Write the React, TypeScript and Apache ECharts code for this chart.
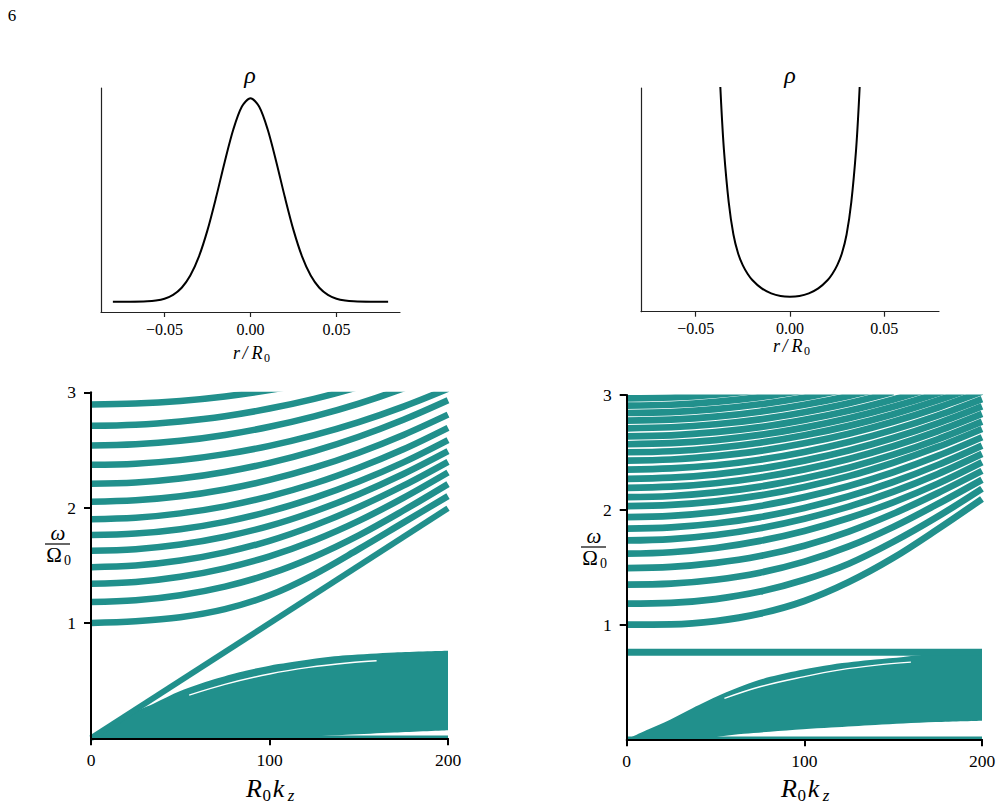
import React, { useEffect, useRef } from 'react';
import * as echarts from 'echarts';

const TEAL = '#21908c';
const SERIF = "'Liberation Serif', 'DejaVu Serif', serif";

// ---- density profiles (top row) ----
const R_GAUSS = [-0.08, -0.07, -0.06, -0.055, -0.05, -0.045, -0.04, -0.035, -0.03, -0.025, -0.02, -0.015, -0.01, -0.005, 0, 0.005, 0.01, 0.015, 0.02, 0.025, 0.03, 0.035, 0.04, 0.045, 0.05, 0.055, 0.06, 0.07, 0.08];
const RHO_GAUSS = [0, 0.0003, 0.0025, 0.0064, 0.0154, 0.034, 0.069, 0.129, 0.222, 0.352, 0.513, 0.687, 0.846, 0.959, 1, 0.959, 0.846, 0.687, 0.513, 0.352, 0.222, 0.129, 0.069, 0.034, 0.0154, 0.0064, 0.0025, 0.0003, 0];

const R_WELL = [-0.04, -0.038, -0.0365, -0.035, -0.0325, -0.03, -0.0275, -0.025, -0.0225, -0.02, -0.015, -0.01, -0.005, 0, 0.005, 0.01, 0.015, 0.02, 0.0225, 0.025, 0.0275, 0.03, 0.0325, 0.035, 0.0365, 0.038, 0.04];
const RHO_WELL = [1.65, 1.2, 0.93, 0.72, 0.49, 0.345, 0.26, 0.207, 0.17, 0.142, 0.104, 0.082, 0.07, 0.067, 0.07, 0.082, 0.104, 0.142, 0.17, 0.207, 0.26, 0.345, 0.49, 0.72, 0.93, 1.2, 1.65];

const R_TICKS = [-0.05, 0, 0.05];

// ---- dispersion bands (bottom row) ----
const KZ = [0, 25, 50, 75, 100, 125, 150, 175, 200];

const LEFT_BANDS = [
  [1.0, 1.015, 1.05, 1.12, 1.24, 1.42, 1.64, 1.87, 2.1],
  [1.181, 1.196, 1.24, 1.315, 1.425, 1.575, 1.76, 1.975, 2.204],
  [1.34, 1.355, 1.4, 1.474, 1.578, 1.715, 1.885, 2.085, 2.305],
  [1.484, 1.498, 1.541, 1.612, 1.712, 1.845, 2.005, 2.19, 2.397],
  [1.626, 1.64, 1.68, 1.748, 1.842, 1.967, 2.117, 2.292, 2.49],
  [1.762, 1.775, 1.813, 1.877, 1.967, 2.084, 2.226, 2.392, 2.585],
  [1.9, 1.912, 1.95, 2.011, 2.098, 2.209, 2.346, 2.506, 2.692],
  [2.051, 2.063, 2.098, 2.157, 2.24, 2.346, 2.476, 2.63, 2.806],
  [2.207, 2.218, 2.252, 2.309, 2.388, 2.49, 2.615, 2.762, 2.931],
  [2.371, 2.381, 2.412, 2.464, 2.536, 2.629, 2.742, 2.876, 3.031],
  [2.539, 2.549, 2.579, 2.63, 2.701, 2.791, 2.902, 3.034, 3.185],
  [2.709, 2.718, 2.747, 2.793, 2.859, 2.943, 3.047, 3.168, 3.309],
  [2.894, 2.902, 2.925, 2.964, 3.019, 3.089, 3.175],
];
const LEFT_LINEAR_KZ = [0, 200];
const LEFT_LINEAR_W = [0, 1.995];

const RIGHT_BANDS = [
  [1.0, 1.002, 1.03, 1.095, 1.205, 1.37, 1.58, 1.83, 2.094],
  [1.183, 1.189, 1.222, 1.287, 1.39, 1.53, 1.72, 1.94, 2.183],
  [1.348, 1.356, 1.39, 1.452, 1.548, 1.68, 1.85, 2.05, 2.262],
  [1.492, 1.502, 1.537, 1.597, 1.687, 1.81, 1.965, 2.145, 2.339],
  [1.617, 1.63, 1.667, 1.729, 1.816, 1.928, 2.065, 2.227, 2.414],
  [1.733, 1.745, 1.78, 1.839, 1.922, 2.027, 2.157, 2.311, 2.487],
  [1.835, 1.847, 1.88, 1.936, 2.016, 2.117, 2.242, 2.39, 2.559],
  [1.936, 1.947, 1.98, 2.033, 2.11, 2.207, 2.327, 2.469, 2.632],
  [2.031, 2.042, 2.073, 2.125, 2.199, 2.293, 2.41, 2.547, 2.704],
  [2.11, 2.12, 2.151, 2.202, 2.275, 2.367, 2.48, 2.614, 2.768],
  [2.191, 2.201, 2.231, 2.281, 2.352, 2.442, 2.553, 2.684, 2.835],
  [2.27, 2.28, 2.309, 2.358, 2.428, 2.516, 2.625, 2.753, 2.901],
  [2.35, 2.36, 2.388, 2.436, 2.504, 2.59, 2.696, 2.821, 2.965],
  [2.429, 2.438, 2.467, 2.513, 2.579, 2.663, 2.767, 2.889, 3.029],
  [2.501, 2.51, 2.538, 2.584, 2.649, 2.731, 2.833, 2.953, 3.091],
  [2.571, 2.58, 2.607, 2.652, 2.716, 2.797, 2.897, 3.015, 3.151],
  [2.64, 2.649, 2.676, 2.72, 2.783, 2.862, 2.961, 3.077],
  [2.71, 2.719, 2.745, 2.788, 2.85, 2.928, 3.025],
  [2.777, 2.786, 2.811, 2.854, 2.915, 2.992, 3.086],
  [2.843, 2.851, 2.877, 2.919, 2.978, 3.054],
  [2.907, 2.915, 2.94, 2.981, 3.04],
  [2.97, 2.978, 3.003, 3.043],
];
const RIGHT_FLAT_KZ = [0, 200];
const RIGHT_FLAT_W = [0.758, 0.758];

// low-frequency continuum: upper edge and lower edge
const CONT_L_KZ = [0, 10, 20, 27.5, 35, 50, 68.5, 85, 100, 110, 125, 143, 170, 200];
const CONT_L_UP = [0, 0.095, 0.19, 0.25, 0.3, 0.41, 0.51, 0.58, 0.63, 0.655, 0.69, 0.72, 0.745, 0.76];
const CONT_L_LO = [0, 0, 0, 0, 0, 0, 0, 0, 0, 0.004, 0.016, 0.03, 0.05, 0.07];

const CONT_R_KZ = [0, 12, 24.4, 37, 52.5, 66, 80.7, 99.4, 115, 127.6, 140, 155.7, 174, 200];
const CONT_R_UP = [0, 0.085, 0.17, 0.27, 0.385, 0.47, 0.544, 0.609, 0.65, 0.675, 0.695, 0.718, 0.745, 0.76];
const CONT_R_LO = [0, 0, 0, 0, 0.025, 0.048, 0.066, 0.087, 0.102, 0.114, 0.125, 0.137, 0.15, 0.162];

// thin gap inside the continuum
const GAP_L_KZ = [55, 75, 100, 122, 145, 160];
const GAP_L_W = [0.375, 0.468, 0.558, 0.615, 0.655, 0.672];
const GAP_R_KZ = [55, 75, 99.4, 120, 140.7, 160];
const GAP_R_W = [0.357, 0.458, 0.544, 0.605, 0.646, 0.672];

// zero-frequency branch along the axis
const ZERO_KZ = [0, 200];
const ZERO_W = [0.013, 0.013];

const KZ_TICKS = [0, 100, 200];
const W_TICKS = [1, 2, 3];

const pairs = (xs: number[], ys: number[]) => ys.map((y, i) => [xs[i], y]);

const fmtR = (v: number) => (v < 0 ? '\u2212' + Math.abs(v).toFixed(2) : v.toFixed(2));

function txt(x: number, y: number, text: string, size: number, italic: boolean, extra: any = {}) {
  return {
    type: 'text',
    x,
    y,
    z: 200,
    silent: true,
    style: {
      text,
      fontSize: size,
      fontFamily: SERIF,
      fontStyle: italic ? 'italic' : 'normal',
      fill: '#000',
      align: 'center',
      verticalAlign: 'middle',
      textAlign: 'center',
      textVerticalAlign: 'middle',
      ...extra,
    },
  };
}

function rLabel(cx: number, cy: number) {
  return [
    txt(cx - 13.5, cy, 'r', 18, true),
    txt(cx - 5, cy, '/', 18, true),
    txt(cx + 7, cy, 'R', 18, true),
    txt(cx + 17, cy + 5, '0', 12, false),
  ];
}

function kLabel(cx: number, cy: number) {
  return [
    txt(cx - 16, cy, 'R', 26, true),
    txt(cx - 3.3, cy + 7, '0', 17, false),
    txt(cx + 8.5, cy, 'k', 26, true),
    txt(cx + 21, cy + 7, 'z', 17, true),
  ];
}

// fraction ω / Ω0 used as the frequency axis title
function wLabel(cx: number, lineY: number) {
  return [
    txt(cx + 0.5, lineY - 11, 'ω', 21, true, { lineHeight: 14 }),
    {
      type: 'line',
      z: 200,
      silent: true,
      shape: { x1: cx - 12.5, y1: lineY, x2: cx + 12.5, y2: lineY },
      style: { stroke: '#000', lineWidth: 1.2 },
    },
    txt(cx - 3.5, lineY + 11, 'Ω', 21, false, { lineHeight: 14 }),
    txt(cx + 10, lineY + 16, '0', 14, false, { lineHeight: 9 }),
  ];
}

function topX(gridIndex: number, lim: number) {
  return {
    type: 'value',
    gridIndex,
    min: -lim,
    max: lim,
    z: 10,
    axisLine: { show: true, onZero: false, lineStyle: { color: '#222', width: 1.2 } },
    axisTick: { show: true, customValues: R_TICKS, length: 5, lineStyle: { color: '#222', width: 1.2 } },
    axisLabel: {
      show: true,
      customValues: R_TICKS,
      formatter: fmtR,
      margin: 9,
      fontSize: 16,
      fontFamily: SERIF,
      color: '#000',
    },
    splitLine: { show: false },
  };
}

function topY(gridIndex: number, min: number, max: number) {
  return {
    type: 'value',
    gridIndex,
    min,
    max,
    z: 10,
    axisLine: { show: true, onZero: false, lineStyle: { color: '#222', width: 1.2 } },
    axisTick: { show: false },
    axisLabel: { show: false },
    splitLine: { show: false },
  };
}

function botX(gridIndex: number) {
  return {
    type: 'value',
    gridIndex,
    min: 0,
    max: 200,
    z: 10,
    axisLine: { show: true, onZero: false, lineStyle: { color: '#000', width: 2 } },
    axisTick: { show: true, customValues: KZ_TICKS, length: 7, lineStyle: { color: '#000', width: 2 } },
    axisLabel: {
      show: true,
      customValues: KZ_TICKS,
      margin: 13,
      fontSize: 17.5,
      fontFamily: SERIF,
      color: '#000',
    },
    splitLine: { show: false },
  };
}

function botY(gridIndex: number, margin: number) {
  return {
    type: 'value',
    gridIndex,
    min: 0,
    max: 3,
    z: 10,
    axisLine: { show: true, onZero: false, lineStyle: { color: '#000', width: 2 } },
    axisTick: { show: true, customValues: W_TICKS, length: 7, lineStyle: { color: '#000', width: 2 } },
    axisLabel: {
      show: true,
      customValues: W_TICKS,
      margin,
      fontSize: 17.5,
      fontFamily: SERIF,
      color: '#000',
    },
    splitLine: { show: false },
  };
}

function bandSeries(idx: number, xs: number[], ys: number[], width: number, color = TEAL, z = 3) {
  return {
    type: 'line',
    xAxisIndex: idx,
    yAxisIndex: idx,
    data: pairs(xs, ys),
    symbol: 'none',
    smooth: 0.35,
    silent: true,
    z,
    lineStyle: { color, width, cap: 'butt' },
  };
}

function areaSeries(idx: number, xs: number[], ys: number[], color: string, z: number) {
  return {
    type: 'line',
    xAxisIndex: idx,
    yAxisIndex: idx,
    data: pairs(xs, ys),
    symbol: 'none',
    smooth: 0.3,
    silent: true,
    z,
    lineStyle: { width: 0, opacity: 0 },
    areaStyle: { color, opacity: 1, origin: 'start' },
  };
}

export default function App() {
  const ref = useRef<HTMLDivElement>(null);

  useEffect(() => {
    if (!ref.current) return;
    const chart = echarts.init(ref.current, undefined, { renderer: 'svg' });

    const series: any[] = [
      {
        type: 'line',
        xAxisIndex: 0,
        yAxisIndex: 0,
        data: pairs(R_GAUSS, RHO_GAUSS),
        symbol: 'none',
        smooth: 0.3,
        silent: true,
        lineStyle: { color: '#000', width: 2 },
      },
      {
        type: 'line',
        xAxisIndex: 1,
        yAxisIndex: 1,
        data: pairs(R_WELL, RHO_WELL),
        symbol: 'none',
        smooth: 0.3,
        silent: true,
        lineStyle: { color: '#000', width: 2 },
      },
      // continuum: teal up to the upper edge, then white below the lower edge
      areaSeries(2, CONT_L_KZ, CONT_L_UP, TEAL, 1),
      areaSeries(2, CONT_L_KZ, CONT_L_LO, '#ffffff', 1.5),
      areaSeries(3, CONT_R_KZ, CONT_R_UP, TEAL, 1),
      areaSeries(3, CONT_R_KZ, CONT_R_LO, '#ffffff', 1.5),
      bandSeries(2, ZERO_KZ, ZERO_W, 2.5),
      bandSeries(3, ZERO_KZ, ZERO_W, 2.5),
      bandSeries(2, LEFT_LINEAR_KZ, LEFT_LINEAR_W, 6),
      ...LEFT_BANDS.map((b) => bandSeries(2, KZ, b, 6.5)),
      bandSeries(3, RIGHT_FLAT_KZ, RIGHT_FLAT_W, 7),
      ...RIGHT_BANDS.map((b) => bandSeries(3, KZ, b, 6.7)),
      bandSeries(2, GAP_L_KZ, GAP_L_W, 1.4, '#ffffff', 4),
      bandSeries(3, GAP_R_KZ, GAP_R_W, 1.4, '#ffffff', 4),
    ];

    const graphic: any[] = [
      // trims band strokes that run past the top of the frequency axes
      { type: 'rect', z: 150, silent: true, shape: { x: 92.5, y: 372, width: 365, height: 19.8 }, style: { fill: '#fff' } },
      { type: 'rect', z: 150, silent: true, shape: { x: 628, y: 374, width: 365, height: 20.5 }, style: { fill: '#fff' } },
      txt(12, 15, '6', 17, false),
      txt(250, 75, 'ρ', 24, true),
      txt(790, 75, 'ρ', 24, true),
      ...rLabel(250, 352.5),
      ...rLabel(790, 346),
      ...kLabel(270, 788),
      ...kLabel(805, 788),
      ...wLabel(57.5, 544),
      ...wLabel(593.5, 547),
    ];

    chart.setOption({
      animation: false,
      grid: [
        { left: 101, top: 88, width: 299, height: 224 },
        { left: 641, top: 88, width: 298, height: 223.7 },
        { left: 91, top: 392.3, width: 357, height: 346 },
        { left: 626.7, top: 395, width: 355.3, height: 344.3 },
      ],
      xAxis: [topX(0, 0.0869), topX(1, 0.079), botX(2), botX(3)],
      yAxis: [topY(0, -0.05, 1.05), topY(1, 0, 1), botY(2, 15), botY(3, 15)],
      series,
      graphic,
    });

    return () => chart.dispose();
  }, []);

  return (
    <div
      ref={ref}
      style={{ position: 'absolute', left: 0, top: 0, width: 1002, height: 809, background: '#fff' }}
    />
  );
}
